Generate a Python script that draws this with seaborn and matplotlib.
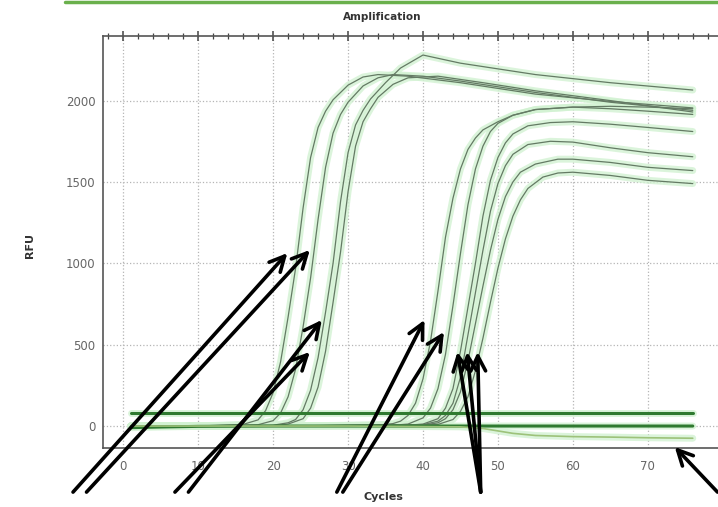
import numpy as np
import pandas as pd
import matplotlib.pyplot as plt
import seaborn as sns
from matplotlib.lines import Line2D
from matplotlib.ticker import MultipleLocator

# Early amplifying wells (RFU per cycle)
a1_cyc = [1, 10, 16, 18, 19, 20, 21, 22, 23, 24, 25, 26, 27, 28, 30, 32, 34, 38, 45, 55, 65, 76]
a1_rfu = [0, 0, 10, 38, 95, 205, 395, 670, 970, 1340, 1650, 1835, 1935, 2005, 2095, 2145, 2160, 2150, 2110, 2040, 1995, 1955]
a2_cyc = [1, 10, 18, 20, 21, 22, 23, 24, 25, 26, 27, 28, 29, 30, 32, 34, 36, 40, 45, 55, 65, 76]
a2_rfu = [0, 0, 8, 33, 80, 180, 350, 610, 910, 1270, 1590, 1800, 1915, 1990, 2090, 2140, 2160, 2150, 2120, 2050, 1990, 1940]
a3_cyc = [1, 10, 20, 22, 23, 24, 25, 26, 27, 28, 29, 30, 31, 32, 33, 35, 37, 40, 45, 55, 65, 76]
a3_rfu = [0, 0, 5, 20, 40, 100, 220, 420, 700, 1000, 1380, 1680, 1850, 1940, 2010, 2110, 2200, 2280, 2230, 2160, 2110, 2065]
a4_cyc = [1, 10, 20, 22, 24, 25, 26, 27, 28, 29, 30, 31, 32, 33, 34, 36, 38, 42, 48, 55, 65, 76]
a4_rfu = [0, 0, 3, 12, 45, 110, 240, 460, 760, 1070, 1440, 1720, 1870, 1950, 2020, 2100, 2140, 2150, 2110, 2060, 2000, 1930]

# Late amplifying wells
b1_cyc = [1, 20, 34, 36, 37, 38, 39, 40, 41, 42, 43, 44, 45, 46, 47, 48, 50, 52, 55, 60, 65, 70, 76]
b1_rfu = [0, 0, 5, 15, 30, 65, 140, 290, 520, 830, 1160, 1400, 1580, 1700, 1770, 1820, 1870, 1910, 1945, 1960, 1950, 1935, 1915]
b2_cyc = [1, 20, 36, 38, 40, 41, 42, 43, 44, 45, 46, 47, 48, 49, 50, 52, 55, 60, 65, 70, 76]
b2_rfu = [0, 0, 5, 12, 50, 110, 230, 440, 740, 1060, 1360, 1580, 1720, 1810, 1860, 1910, 1945, 1960, 1965, 1960, 1950]
b3_cyc = [1, 20, 38, 40, 42, 43, 44, 45, 46, 47, 48, 49, 50, 51, 52, 54, 57, 60, 65, 70, 76]
b3_rfu = [0, 0, 5, 12, 45, 110, 230, 460, 730, 1000, 1290, 1510, 1650, 1740, 1795, 1845, 1865, 1870, 1855, 1835, 1810]
b4_cyc = [1, 20, 40, 42, 43, 44, 45, 46, 47, 48, 49, 50, 51, 52, 54, 57, 60, 65, 70, 76]
b4_rfu = [0, 0, 8, 30, 65, 140, 300, 560, 820, 1080, 1320, 1490, 1600, 1670, 1730, 1750, 1745, 1710, 1680, 1655]
b5_cyc = [1, 20, 40, 42, 43, 44, 45, 46, 47, 48, 49, 50, 51, 52, 53, 55, 58, 60, 65, 70, 76]
b5_rfu = [0, 0, 5, 20, 45, 100, 210, 400, 630, 860, 1080, 1270, 1410, 1500, 1560, 1610, 1640, 1640, 1620, 1590, 1570]
b6_cyc = [1, 20, 42, 44, 45, 46, 47, 48, 49, 50, 51, 52, 53, 54, 56, 58, 60, 65, 70, 76]
b6_rfu = [0, 0, 10, 40, 90, 180, 340, 540, 760, 970, 1150, 1290, 1390, 1460, 1530, 1555, 1560, 1540, 1510, 1490]

# Non-amplifying wells
flat_cyc = [1, 76]
flat_rfu = [80, 80]
zero_cyc = [1, 5, 10, 20, 76]
zero_rfu = [-10, -6, -2, 0, 0]
drop_cyc = [1, 30, 45, 48, 50, 52, 55, 60, 65, 70, 76]
drop_rfu = [0, 0, -5, -15, -30, -45, -58, -65, -68, -72, -75]

# Arrow annotations (tail -> head), in cycle / RFU units
arrow_tails = [(-6.7, -406), (-4.9, -406), (6.9, -406), (8.7, -406), (28.5, -406),
               (29.3, -406), (47.7, -406), (47.7, -406), (47.7, -406), (79.3, -406)]
arrow_heads = [(21.9, 1063), (24.9, 1082), (24.9, 455), (26.5, 652), (40.2, 652),
               (42.8, 578), (44.6, 455), (45.9, 455), (47.3, 455), (73.6, -129)]


def to_long(pairs):
    frames = []
    for name, (c, r) in pairs.items():
        frames.append(pd.DataFrame({'well': name, 'cycle': c, 'rfu': r}))
    return pd.concat(frames, ignore_index=True)


amp = to_long({'A1': (a1_cyc, a1_rfu), 'A2': (a2_cyc, a2_rfu), 'A3': (a3_cyc, a3_rfu),
               'A4': (a4_cyc, a4_rfu), 'B1': (b1_cyc, b1_rfu), 'B2': (b2_cyc, b2_rfu),
               'B3': (b3_cyc, b3_rfu), 'B4': (b4_cyc, b4_rfu), 'B5': (b5_cyc, b5_rfu),
               'B6': (b6_cyc, b6_rfu)})
neg = to_long({'flat': (flat_cyc, flat_rfu), 'zero': (zero_cyc, zero_rfu)})
drop = to_long({'drop': (drop_cyc, drop_rfu)})

sns.set_theme(style="white")

fig = plt.figure(figsize=(7.18, 5.07), dpi=100)
ax = fig.add_axes([103 / 718, 59 / 507, 619 / 718, 412 / 507])

# light green glow under every trace, then the thin trace itself
for data in (amp, neg, drop):
    sns.lineplot(data=data, x='cycle', y='rfu', units='well', estimator=None,
                 color='#d2f2d2', lw=5, alpha=0.8, ax=ax, legend=False)
sns.lineplot(data=amp, x='cycle', y='rfu', units='well', estimator=None,
             color='#647a64', lw=0.9, ax=ax, legend=False)
sns.lineplot(data=neg, x='cycle', y='rfu', units='well', estimator=None,
             color='#2f7a30', lw=2.2, ax=ax, legend=False)
sns.lineplot(data=drop, x='cycle', y='rfu', units='well', estimator=None,
             color='#9dc27a', lw=1.2, ax=ax, legend=False)

ax.set_xlim(-2.7, 79.9)
ax.set_ylim(-135, 2397)
ax.xaxis.set_major_locator(MultipleLocator(10))
ax.xaxis.set_minor_locator(MultipleLocator(2))
ax.yaxis.set_major_locator(MultipleLocator(500))
ax.yaxis.set_minor_locator(MultipleLocator(100))
ax.grid(True, which='major', ls=':', color='#b5b5b5', lw=0.9)
ax.tick_params(which='both', direction='inout', top=True, right=False,
               color='#444444', labelcolor='#666666', labelsize=8.5)
ax.tick_params(which='major', length=7, width=1.1)
ax.tick_params(which='minor', length=4, width=0.9)
ax.tick_params(axis='x', pad=5)
ax.tick_params(axis='y', pad=2)
ax.set_xlabel('')
ax.set_ylabel('')
for side in ('left', 'bottom', 'top'):
    ax.spines[side].set_color('#555555')
    ax.spines[side].set_linewidth(1.2)
ax.spines['right'].set_visible(False)

fig.text(382 / 718, 1 - 17 / 507, 'Amplification', ha='center', va='center',
         fontsize=7.5, fontweight='bold', color='#333333')
fig.text(30 / 718, 1 - 245 / 507, 'RFU', ha='center', va='center', rotation=90,
         fontsize=8, fontweight='bold', color='#333333')
fig.text(383 / 718, 1 - 497 / 507, 'Cycles', ha='center', va='center',
         fontsize=8, fontweight='bold', color='#333333')

# green rule along the top edge
fig.add_artist(Line2D([65 / 718, 1.0], [1 - 1.5 / 507] * 2, color='#6ab04c', lw=2.5))

for tail, head in zip(arrow_tails, arrow_heads):
    ax.annotate('', xy=head, xytext=tail, xycoords='data', textcoords='data',
                annotation_clip=False,
                arrowprops=dict(arrowstyle='->,head_length=0.9,head_width=0.45',
                                lw=2.6, color='black', shrinkA=0, shrinkB=0))

fig.savefig('out.png', dpi=100)
